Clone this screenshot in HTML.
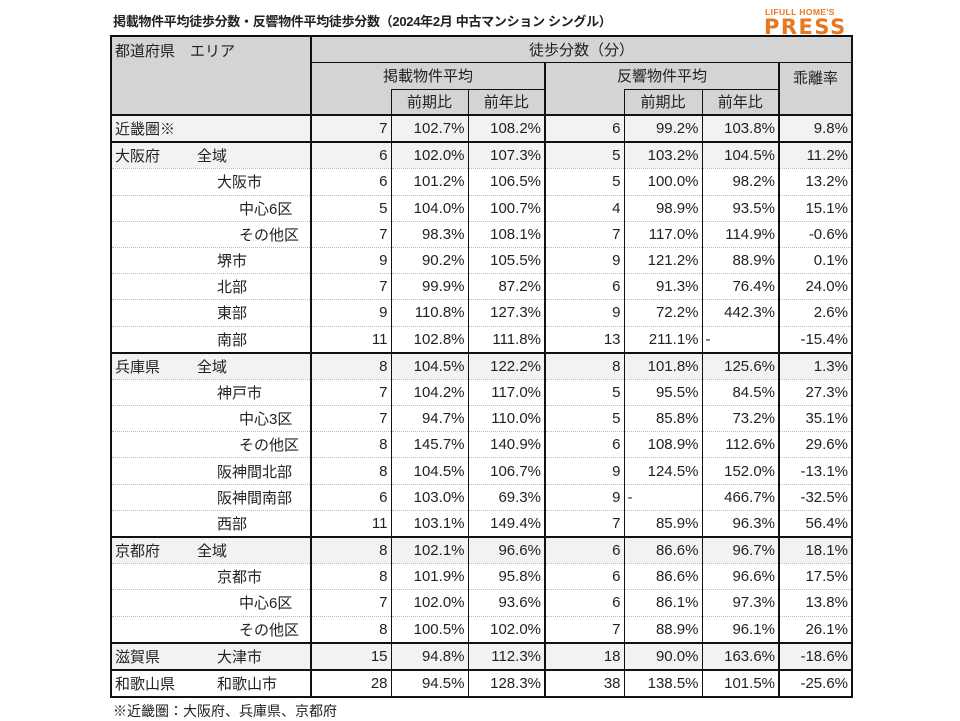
<!DOCTYPE html>
<html><head><meta charset="utf-8"><style>
body{margin:0;width:960px;height:720px;background:#fff;position:relative;font-family:"Liberation Sans","Noto Sans CJK JP",sans-serif;color:#222;overflow:hidden}
.title{position:absolute;left:113px;top:11px;font-size:13px;font-weight:bold;letter-spacing:-0.3px}
.logo1{position:absolute;left:765px;top:7px;font-size:8.5px;font-weight:bold;color:#e8771e;letter-spacing:0.4px}
.logo2{position:absolute;left:764px;top:15px;font-size:21px;font-weight:900;color:#e8771e;letter-spacing:1.5px;font-family:"DejaVu Sans",sans-serif}
table{position:absolute;left:110px;top:35px;border-collapse:collapse;table-layout:fixed;font-size:15px;border:2px solid #111}
td{padding:0 3px;white-space:nowrap;overflow:hidden}
.h td{background:#d4d4d4;text-align:center;border:1px solid #111}
.b td{height:25.2px;text-align:right;border-left:1px solid #111;border-top:1px dotted #bbb}
.b td.a{text-align:left;position:relative}
.g td{border-top:2px solid #111;background:#f2f2f2}
.tl{border-left:2px solid #111 !important}
.s1{padding-left:85px !important}
.s2{padding-left:105px !important}
.s3{padding-left:127px !important}
.foot{position:absolute;left:113px;top:701px;font-size:14px}
</style></head><body>
<div class="title">掲載物件平均徒歩分数・反響物件平均徒歩分数（2024年2月 中古マンション シングル）</div>
<div class="logo1">LIFULL HOME'S</div>
<div class="logo2">PRESS</div>
<table>
<colgroup><col style="width:200px"><col style="width:80px"><col style="width:77px"><col style="width:77px"><col style="width:79px"><col style="width:78px"><col style="width:77px"><col style="width:73px"></colgroup>
<tr class="h" style="height:26px"><td rowspan="3" style="text-align:left;vertical-align:top;padding-top:3px;border-right:2px solid #111">都道府県　エリア</td><td colspan="7">徒歩分数（分）</td></tr>
<tr class="h" style="height:27px"><td colspan="3" class="tl" style="border-bottom:none">掲載物件平均</td><td colspan="3" class="tl" style="border-bottom:none">反響物件平均</td><td rowspan="2" class="tl" style="vertical-align:top;padding-top:4px">乖離率</td></tr>
<tr class="h" style="height:26px"><td class="tl" style="border-top:none"></td><td>前期比</td><td>前年比</td><td class="tl" style="border-top:none"></td><td>前期比</td><td>前年比</td></tr>
<tr class="b g"><td class="a">近畿圏※</td><td class="tl">7</td><td>102.7%</td><td>108.2%</td><td class="tl">6</td><td>99.2%</td><td>103.8%</td><td class="tl">9.8%</td></tr>
<tr class="b g"><td class="a">大阪府<span style="position:absolute;left:85px">全域</span></td><td class="tl">6</td><td>102.0%</td><td>107.3%</td><td class="tl">5</td><td>103.2%</td><td>104.5%</td><td class="tl">11.2%</td></tr>
<tr class="b"><td class="a s2">大阪市</td><td class="tl">6</td><td>101.2%</td><td>106.5%</td><td class="tl">5</td><td>100.0%</td><td>98.2%</td><td class="tl">13.2%</td></tr>
<tr class="b"><td class="a s3">中心6区</td><td class="tl">5</td><td>104.0%</td><td>100.7%</td><td class="tl">4</td><td>98.9%</td><td>93.5%</td><td class="tl">15.1%</td></tr>
<tr class="b"><td class="a s3">その他区</td><td class="tl">7</td><td>98.3%</td><td>108.1%</td><td class="tl">7</td><td>117.0%</td><td>114.9%</td><td class="tl">-0.6%</td></tr>
<tr class="b"><td class="a s2">堺市</td><td class="tl">9</td><td>90.2%</td><td>105.5%</td><td class="tl">9</td><td>121.2%</td><td>88.9%</td><td class="tl">0.1%</td></tr>
<tr class="b"><td class="a s2">北部</td><td class="tl">7</td><td>99.9%</td><td>87.2%</td><td class="tl">6</td><td>91.3%</td><td>76.4%</td><td class="tl">24.0%</td></tr>
<tr class="b"><td class="a s2">東部</td><td class="tl">9</td><td>110.8%</td><td>127.3%</td><td class="tl">9</td><td>72.2%</td><td>442.3%</td><td class="tl">2.6%</td></tr>
<tr class="b"><td class="a s2">南部</td><td class="tl">11</td><td>102.8%</td><td>111.8%</td><td class="tl">13</td><td>211.1%</td><td style="text-align:left">-</td><td class="tl">-15.4%</td></tr>
<tr class="b g"><td class="a">兵庫県<span style="position:absolute;left:85px">全域</span></td><td class="tl">8</td><td>104.5%</td><td>122.2%</td><td class="tl">8</td><td>101.8%</td><td>125.6%</td><td class="tl">1.3%</td></tr>
<tr class="b"><td class="a s2">神戸市</td><td class="tl">7</td><td>104.2%</td><td>117.0%</td><td class="tl">5</td><td>95.5%</td><td>84.5%</td><td class="tl">27.3%</td></tr>
<tr class="b"><td class="a s3">中心3区</td><td class="tl">7</td><td>94.7%</td><td>110.0%</td><td class="tl">5</td><td>85.8%</td><td>73.2%</td><td class="tl">35.1%</td></tr>
<tr class="b"><td class="a s3">その他区</td><td class="tl">8</td><td>145.7%</td><td>140.9%</td><td class="tl">6</td><td>108.9%</td><td>112.6%</td><td class="tl">29.6%</td></tr>
<tr class="b"><td class="a s2">阪神間北部</td><td class="tl">8</td><td>104.5%</td><td>106.7%</td><td class="tl">9</td><td>124.5%</td><td>152.0%</td><td class="tl">-13.1%</td></tr>
<tr class="b"><td class="a s2">阪神間南部</td><td class="tl">6</td><td>103.0%</td><td>69.3%</td><td class="tl">9</td><td style="text-align:left">-</td><td>466.7%</td><td class="tl">-32.5%</td></tr>
<tr class="b"><td class="a s2">西部</td><td class="tl">11</td><td>103.1%</td><td>149.4%</td><td class="tl">7</td><td>85.9%</td><td>96.3%</td><td class="tl">56.4%</td></tr>
<tr class="b g"><td class="a">京都府<span style="position:absolute;left:85px">全域</span></td><td class="tl">8</td><td>102.1%</td><td>96.6%</td><td class="tl">6</td><td>86.6%</td><td>96.7%</td><td class="tl">18.1%</td></tr>
<tr class="b"><td class="a s2">京都市</td><td class="tl">8</td><td>101.9%</td><td>95.8%</td><td class="tl">6</td><td>86.6%</td><td>96.6%</td><td class="tl">17.5%</td></tr>
<tr class="b"><td class="a s3">中心6区</td><td class="tl">7</td><td>102.0%</td><td>93.6%</td><td class="tl">6</td><td>86.1%</td><td>97.3%</td><td class="tl">13.8%</td></tr>
<tr class="b"><td class="a s3">その他区</td><td class="tl">8</td><td>100.5%</td><td>102.0%</td><td class="tl">7</td><td>88.9%</td><td>96.1%</td><td class="tl">26.1%</td></tr>
<tr class="b g"><td class="a">滋賀県<span style="position:absolute;left:105px">大津市</span></td><td class="tl">15</td><td>94.8%</td><td>112.3%</td><td class="tl">18</td><td>90.0%</td><td>163.6%</td><td class="tl">-18.6%</td></tr>
<tr class="b g" style="background:#fff"><td class="a" style="background:#fff">和歌山県<span style="position:absolute;left:105px">和歌山市</span></td><td class="tl" style="background:#fff">28</td><td style="background:#fff">94.5%</td><td style="background:#fff">128.3%</td><td class="tl" style="background:#fff">38</td><td style="background:#fff">138.5%</td><td style="background:#fff">101.5%</td><td class="tl" style="background:#fff">-25.6%</td></tr>
</table>
<div class="foot">※近畿圏：大阪府、兵庫県、京都府</div>
</body></html>
